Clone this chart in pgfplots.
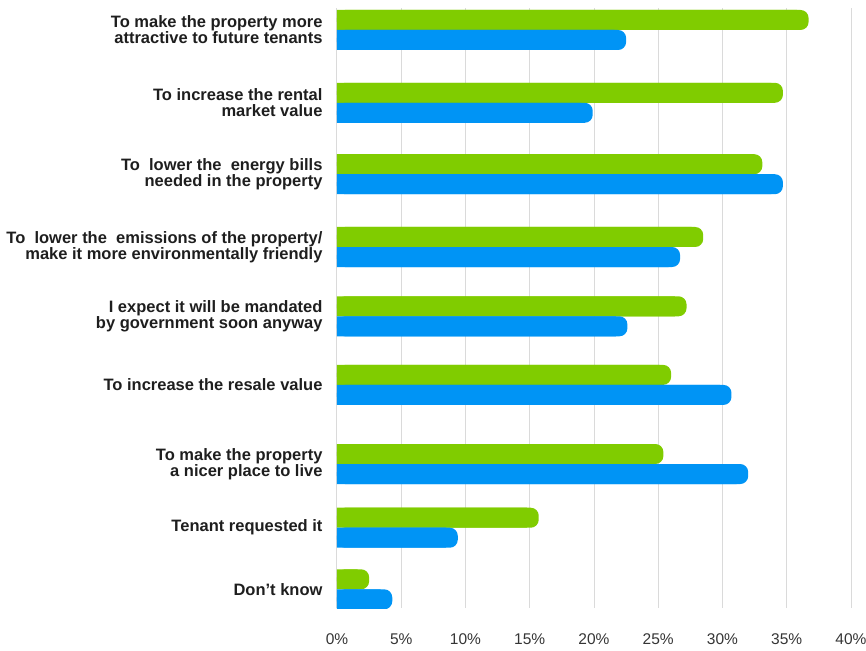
\documentclass[border=0pt]{standalone}
\usepackage{pgfplots}
\usepackage{pgfplotstable}
\pgfplotsset{compat=1.18}
\usepackage{fontspec}
\setmainfont{Liberation Sans}
\definecolor{barg}{RGB}{128,204,0}
\definecolor{barb}{RGB}{0,148,245}
\definecolor{gridc}{RGB}{218,218,218}
\definecolor{txt}{RGB}{30,30,30}
\pgfplotstableread{
cat green blue
0.00 36.7 22.5
1.04 34.7 19.9
2.06 33.1 34.7
3.10 28.5 26.7
4.09 27.2 22.6
5.07 26.0 30.7
6.20 25.4 32.0
7.11 15.7 9.4
7.99 2.5 4.3
}\datatable
\begin{document}
\begin{tikzpicture}
\begin{axis}[
  scale only axis, width=514pt, height=600pt,
  xmin=0, xmax=40, ymin=-0.314, ymax=8.257, y dir=reverse,
  axis line style={draw=none},
  major tick length=0pt,
  xmajorgrids, grid style={gridc, line width=1pt},
  xtick={0,5,...,40},
  xticklabels={0\%,5\%,10\%,15\%,20\%,25\%,30\%,35\%,40\%},
  xticklabel style={font=\fontsize{15.5}{15.5}\selectfont, text=txt!90, yshift=-22pt},
  ytick={0,1.04,2.06,3.10,4.09,5.07,6.20,7.11,7.99},
  yticklabels={
    {To make the property more\\attractive to future tenants},
    {To increase the rental\\market value\ },
    {To\ \ lower the\ \ energy bills\\needed in the property},
    {To\ \ lower the\ \ emissions of the property/\\make it more environmentally friendly},
    {I expect it will be mandated\\by government soon anyway},
    {To increase the resale value},
    {To make the property\\a nicer place to live},
    {Tenant requested it},
    {Don't know}},
  yticklabel style={font=\fontsize{16.5}{16}\selectfont\bfseries, text=txt, align=right, xshift=-11pt},
  /pgf/number format/assume math mode=true,
]
\addplot[xbar, bar width=0.2857, bar shift=-0.1429, fill=barg, draw=none, rounded corners=8pt] table[x=green, y=cat] {\datatable};
\addplot[xbar, bar width=0.2857, bar shift=-0.1429, fill=barg, draw=none] table[x expr=\thisrow{green}-0.9, y=cat] {\datatable};
\addplot[xbar, bar width=0.2857, bar shift=0.1429, fill=barb, draw=none, rounded corners=8pt] table[x=blue, y=cat] {\datatable};
\addplot[xbar, bar width=0.2857, bar shift=0.1429, fill=barb, draw=none] table[x expr=\thisrow{blue}-0.9, y=cat] {\datatable};
\end{axis}
\pgfresetboundingbox
\path (-337pt,-42pt) rectangle (529pt,608pt);
\end{tikzpicture}
\end{document}
